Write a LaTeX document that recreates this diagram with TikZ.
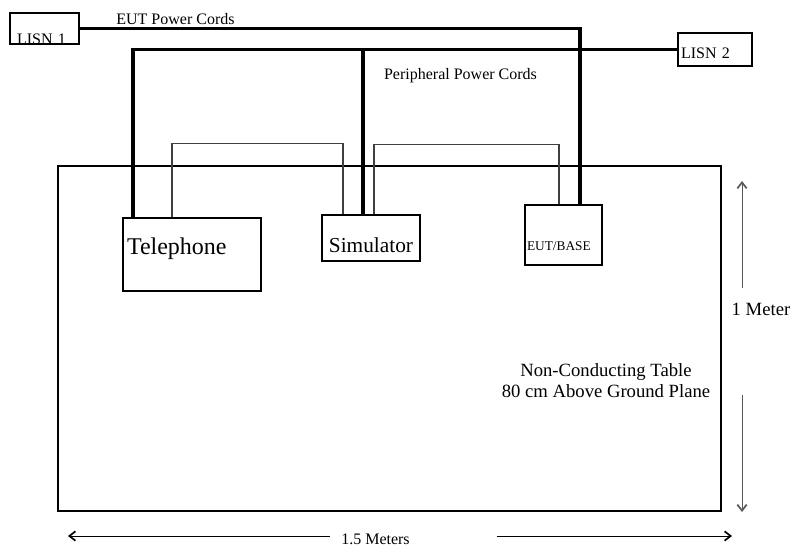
\documentclass[tikz,border=0pt]{standalone}
\usepackage{fontspec}
\setmainfont{Liberation Serif}
\usetikzlibrary{calc,arrows.meta}
\newcommand{\txtsize}[1]{\fontsize{#1}{#1}\selectfont}
\begin{document}
\begin{tikzpicture}[x=0.75pt,y=-0.75pt,
  box/.style={draw,line width=0.8pt,inner sep=0pt,align=left},
  cord/.style={line width=2.6pt},
  link/.style={line width=0.8pt,black!75},
  dim/.style={line width=0.7pt,-{Straight Barb[length=4.5pt,width=7pt,line width=1.3pt]}}]
  \useasboundingbox (0,0) rectangle (793,546);
  \node[box,minimum width=51.75pt,minimum height=23.25pt,text width=41.25pt,
    text height=23.25pt,text depth=0pt,font=\txtsize{12}] (lisnA) at (44.5,28.5) {LISN 1};
  \node[box,minimum width=55.5pt,minimum height=24.75pt,text width=51pt,
    text height=12.75pt,text depth=0pt,font=\txtsize{12}] (lisnB) at (715,49.5) {LISN 2};
  \node[box,minimum width=103.5pt,minimum height=54.75pt,text width=97.5pt,
    text height=8pt,text depth=8pt,font=\txtsize{18}] (phone) at (192,254.5) {Telephone};
  \node[box,align=center,minimum width=73.5pt,minimum height=34.5pt,
    text height=21pt,text depth=0pt,font=\txtsize{16}] (sim) at (371,238) {Simulator};
  \node[box,minimum width=57.75pt,minimum height=45pt,text width=54.75pt,
    text height=22.5pt,text depth=0pt,font=\txtsize{10}] (eut) at (563.5,235) {EUT/BASE};
  \draw[line width=1.6pt] (58,166) rectangle (721,511);
  \draw[cord] (lisnA.east) -| ($(eut.north)+(16.5,0)$);
  \draw[cord] (lisnB.west) -| ($(phone.north)+(-59,0)$);
  \draw[cord] ($(sim.north)+(-8,0)$) |- (lisnB.west);
  \draw[link] ($(phone.north)+(-20,0)$) -- ++(0,-74) -| ($(sim.north)+(-28,0)$);
  \draw[link] ($(sim.north)+(3,0)$) -- ++(0,-70) -| ($(eut.north)+(-4.5,0)$);
  \node[anchor=base,font=\txtsize{12}] (eutLbl) at (175.5,24) {EUT Power Cords};
  \node[anchor=base,font=\txtsize{12}] (periLbl) at (460.5,79) {Peripheral Power Cords};
  \node[align=center,font=\fontsize{14}{15.75}\selectfont] (tableLbl) at (606,381)
    {Non-Conducting Table\\80 cm Above Ground Plane};
  \draw[dim,black!65] (742,288) -- (742,181);
  \draw[dim,black!65] (742,395) -- (742,512);
  \node[anchor=base,font=\txtsize{14}] (heightLbl) at (761,315) {1 Meter};
  \draw[dim] (330,536) -- (68,536);
  \draw[dim] (497,536) -- (732,536);
  \node[anchor=base,font=\txtsize{12}] (widthLbl) at (375.5,544) {1.5 Meters};
\end{tikzpicture}
\end{document}
